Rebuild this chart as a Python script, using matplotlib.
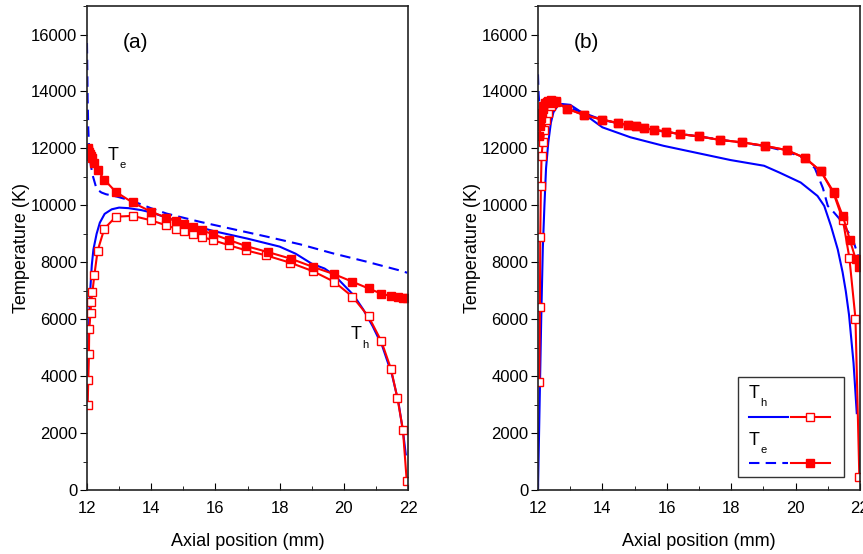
import numpy as np
import matplotlib
matplotlib.use('Agg')
import matplotlib.pyplot as plt
from matplotlib.patches import Rectangle
from matplotlib.lines import Line2D
from matplotlib.ticker import MultipleLocator

plt.rcParams['font.family'] = ['Liberation Sans', 'DejaVu Sans']

# ---- panel (a) ----
# Th, model 1 (blue solid)
a_th1_x = [12.0, 12.03, 12.06, 12.09, 12.15, 12.2, 12.3, 12.4, 12.55, 12.77, 13.0, 13.3, 13.7,
           14.0, 14.5, 15.0, 16.0, 17.0, 18.0, 18.5, 19.0, 19.4, 19.7, 20.0, 20.3, 20.6, 20.9,
           21.2, 21.5, 21.7, 21.85, 21.93]
a_th1_T = [3000, 4200, 5600, 6800, 7900, 8450, 9000, 9390, 9700, 9860, 9920, 9900, 9830,
           9750, 9560, 9380, 9080, 8830, 8550, 8300, 7950, 7780, 7550, 7200, 6850, 6350, 5750,
           5050, 4050, 3100, 2000, 1250]
# Te, model 1 (blue dashed)
a_te1_x = [12.0, 12.01, 12.02, 12.04, 12.07, 12.12, 12.18, 12.3, 12.45, 12.59, 12.92, 13.42,
           13.99, 14.48, 15.52, 16.56, 17.6, 18.64, 19.67, 20.71, 21.75, 21.98]
a_te1_T = [15700, 14800, 13740, 12700, 11860, 11400, 11040, 10570, 10450, 10390, 10310, 10150,
           9900, 9710, 9420, 9160, 8900, 8630, 8310, 8020, 7710, 7630]
# Th, model 2 (red, open squares)
a_th2_x = [12.02, 12.04, 12.06, 12.07, 12.11, 12.13, 12.17, 12.23, 12.33, 12.54, 12.9, 13.42,
           13.99, 14.46, 14.77, 15.03, 15.29, 15.58, 15.94, 16.43, 16.95, 17.58, 18.33, 19.03,
           19.7, 20.27, 20.77, 21.17, 21.47, 21.67, 21.84, 21.96]
a_th2_T = [2970, 3850, 4790, 5640, 6220, 6590, 6960, 7550, 8400, 9180, 9600, 9630,
           9475, 9300, 9180, 9100, 8980, 8890, 8770, 8595, 8420, 8240, 7985, 7690,
           7315, 6790, 6095, 5225, 4250, 3220, 2125, 317]
# Te, model 2 (red, filled squares)
a_te2_x = [12.02, 12.04, 12.06, 12.08, 12.12, 12.17, 12.23, 12.33, 12.54, 12.9, 13.42, 13.99,
           14.46, 14.77, 15.03, 15.29, 15.58, 15.94, 16.43, 16.95, 17.63, 18.35, 19.03, 19.69,
           20.27, 20.77, 21.16, 21.47, 21.68, 21.84, 21.96]
a_te2_T = [12000, 11950, 11880, 11800, 11720, 11650, 11480, 11240, 10900, 10470, 10100, 9780,
           9570, 9450, 9360, 9240, 9120, 8980, 8780, 8570, 8360, 8125, 7840, 7585,
           7315, 7080, 6900, 6810, 6770, 6740, 6730]

# ---- panel (b) ----
b_th1_x = [12.0, 12.05, 12.1, 12.15, 12.2, 12.25, 12.32, 12.4, 12.48, 12.6, 12.74, 13.0, 13.43,
           14.0, 14.87, 15.9, 16.94, 17.98, 19.02, 19.5, 20.16, 20.68, 20.89, 21.1, 21.31,
           21.46, 21.56, 21.66, 21.8, 21.9]
b_th1_T = [0, 3000, 6000, 8500, 10000, 11300, 12210, 12900, 13270, 13480, 13560, 13530, 13210,
           12740, 12390, 12090, 11840, 11590, 11390, 11150, 10800, 10330, 9980, 9270, 8450,
           7650, 6980, 6150, 4460, 2700]
b_te1_x = [12.0, 12.01, 12.02, 12.04, 12.08, 12.15, 12.3, 12.6, 13.0, 14.0, 15.0, 16.0, 17.0,
           18.0, 19.0, 19.7, 20.3, 20.6, 20.85, 21.0, 21.2, 21.42, 21.6, 21.78, 21.95]
b_te1_T = [14600, 14200, 13900, 13600, 13450, 13450, 13550, 13560, 13420, 13000, 12760, 12570,
           12420, 12250, 12090, 11900, 11650, 11300, 10600, 9980, 9740, 9450, 9120, 8800, 8200]
b_th2_x = [12.04, 12.06, 12.07, 12.09, 12.11, 12.15, 12.2, 12.25, 12.3, 12.4, 12.48, 12.56,
           12.89, 13.43, 14.0, 14.48, 14.78, 15.04, 15.3, 15.59, 15.96, 16.42, 17.0, 17.64,
           18.35, 19.04, 19.72, 20.3, 20.79, 21.18, 21.47, 21.67, 21.86, 21.98]
b_th2_T = [3780, 6420, 8900, 10680, 11720, 12230, 12650, 13000, 13250, 13500, 13600, 13620,
           13400, 13170, 13010, 12890, 12830, 12780, 12700, 12660, 12590, 12500, 12420, 12300,
           12210, 12090, 11940, 11660, 11190, 10420, 9480, 8160, 6020, 470]
b_te2_x = [12.04, 12.06, 12.08, 12.11, 12.14, 12.17, 12.22, 12.27, 12.32, 12.4, 12.48, 12.56,
           12.89, 13.43, 14.0, 14.48, 14.78, 15.04, 15.3, 15.59, 15.96, 16.42, 17.0, 17.64,
           18.35, 19.04, 19.72, 20.3, 20.79, 21.18, 21.47, 21.69, 21.87, 21.97]
b_te2_T = [12450, 12800, 13050, 13250, 13400, 13500, 13580, 13640, 13680, 13690, 13680, 13650,
           13400, 13170, 13010, 12890, 12830, 12780, 12700, 12660, 12590, 12500, 12420, 12300,
           12210, 12090, 11940, 11660, 11190, 10470, 9610, 8770, 8100, 7830]

blue = '#0000ff'
red = '#ff0000'
lw = 1.5
ms = 6

fig = plt.figure(figsize=(8.63, 5.54), dpi=100)
axa = fig.add_axes([0.1008, 0.1155, 0.372, 0.8736])
axb = fig.add_axes([0.6234, 0.1155, 0.3731, 0.8736])


def draw(ax, th1x, th1T, te1x, te1T, th2x, th2T, te2x, te2T):
    ax.plot(th1x, th1T, color=blue, lw=lw)
    ax.plot(te1x, te1T, color=blue, lw=lw, ls=(0, (5, 3)))
    ax.plot(th2x, th2T, color=red, lw=lw, marker='s', ms=ms, mfc='white', mec=red, mew=1.0)
    ax.plot(te2x, te2T, color=red, lw=lw, marker='s', ms=ms, mfc=red, mec=red)
    ax.set_xlim(12, 22)
    ax.set_ylim(0, 17000)
    ax.xaxis.set_major_locator(MultipleLocator(2))
    ax.xaxis.set_minor_locator(MultipleLocator(1))
    ax.yaxis.set_major_locator(MultipleLocator(2000))
    ax.yaxis.set_minor_locator(MultipleLocator(1000))
    ax.tick_params(axis='x', which='both', direction='in', labelsize=12, pad=8)
    ax.tick_params(axis='x', which='major', length=5)
    ax.tick_params(axis='x', which='minor', length=3)
    ax.tick_params(axis='y', which='both', direction='out', labelsize=12, pad=2)
    ax.tick_params(axis='y', which='major', length=5)
    ax.tick_params(axis='y', which='minor', length=3)
    for s in ax.spines.values():
        s.set_linewidth(1.2)
        s.set_color('#222222')
    ax.set_xlabel('Axial position (mm)', fontsize=13, labelpad=12)
    ax.set_ylabel('Temperature (K)', fontsize=13, labelpad=0.5)


draw(axa, a_th1_x, a_th1_T, a_te1_x, a_te1_T, a_th2_x, a_th2_T, a_te2_x, a_te2_T)
draw(axb, b_th1_x, b_th1_T, b_te1_x, b_te1_T, b_th2_x, b_th2_T, b_te2_x, b_te2_T)

axa.text(0.11, 0.925, '(a)', transform=axa.transAxes, fontsize=15, va='center')
axb.text(0.11, 0.925, '(b)', transform=axb.transAxes, fontsize=15, va='center')


def tlabel(ax, x, y, sub, trans=None):
    # big "T" with a small subscript placed just below-right of it
    if trans is None:
        trans = ax.transData
    ax.text(x, y, 'T', transform=trans, fontsize=13, va='center')
    ax.annotate(sub, (x, y), xycoords=trans, xytext=(8.5, -7), textcoords='offset points',
                fontsize=8, va='center')


tlabel(axa, 12.65, 11750, 'e')
tlabel(axa, 20.2, 5450, 'h')

# hand-built legend in panel (b)
tr = axb.transAxes
axb.add_patch(Rectangle((0.621, 0.027), 0.329, 0.206, transform=tr, fill=False,
                        ec='#333333', lw=1.0, zorder=5))
tlabel(axb, 0.655, 0.200, 'h', tr)
tlabel(axb, 0.655, 0.103, 'e', tr)
for yy, ls, mfc in [(0.1515, '-', 'white'), (0.055, (0, (5, 3)), red)]:
    axb.add_line(Line2D([0.656, 0.776], [yy, yy], transform=tr, color=blue, lw=lw, ls=ls))
    axb.add_line(Line2D([0.786, 0.906], [yy, yy], transform=tr, color=red, lw=lw))
    axb.add_line(Line2D([0.844], [yy], transform=tr, color=red, marker='s', ms=ms,
                        mfc=mfc, mec=red, lw=0))

fig.savefig('out.png', dpi=100)
